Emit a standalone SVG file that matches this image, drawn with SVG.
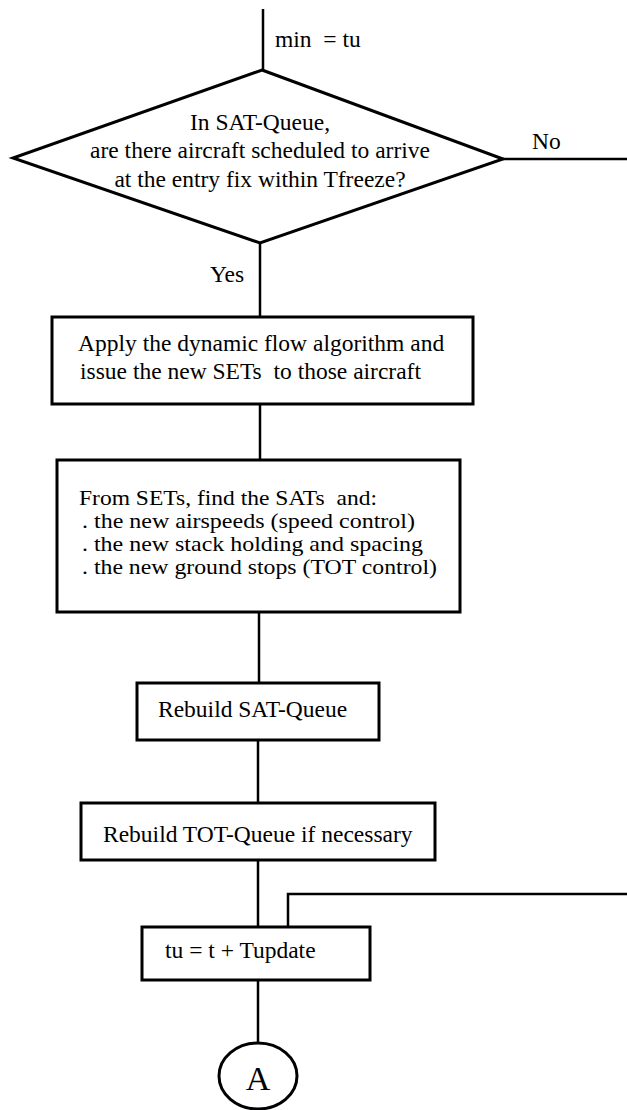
<svg xmlns="http://www.w3.org/2000/svg" width="627" height="1110" viewBox="0 0 627 1110">
  <style>
    .shape { fill: #fff; stroke: #000; stroke-width: 3; }
    .conn { fill: none; stroke: #000; stroke-width: 2.5; }
    text { font-family: "Liberation Serif", "Times New Roman", serif; font-size: 23.5px; fill: #000; }
    .c { text-anchor: middle; }
    .tight { font-size: 21px; }
  </style>
  <rect width="627" height="1110" fill="#fff"/>
  <g id="connectors">
    <path class="conn" d="M263,9 V71"/>
    <path class="conn" d="M503,159 H627"/>
    <path class="conn" d="M260,243 V317"/>
    <path class="conn" d="M260,404 V460"/>
    <path class="conn" d="M259,612 V683"/>
    <path class="conn" d="M258,740 V803"/>
    <path class="conn" d="M258,860 V927"/>
    <path class="conn" d="M288,927 V894 H627"/>
    <path class="conn" d="M258,980 V1043"/>
    <text x="275" y="47" xml:space="preserve">min  = tu</text>
    <text x="532" y="149">No</text>
    <text x="210" y="282">Yes</text>
  </g>
  <g id="decision">
    <polygon class="shape" points="262,70 503,159 260,243 13,158"/>
    <text class="c" x="260" y="130">In SAT-Queue,</text>
    <text class="c" x="260" y="158">are there aircraft scheduled to arrive</text>
    <text class="c" x="260" y="187">at the entry fix within Tfreeze?</text>
  </g>
  <g id="apply">
    <rect class="shape" x="52" y="317" width="421" height="87"/>
    <text x="78" y="351">Apply the dynamic flow algorithm and</text>
    <text x="80" y="379" xml:space="preserve">issue the new SETs  to those aircraft</text>
  </g>
  <g id="fromsets">
    <rect class="shape" x="57" y="460" width="403" height="152"/>
    <text class="tight" x="79" y="505" textLength="298" lengthAdjust="spacingAndGlyphs" xml:space="preserve">From SETs, find the SATs  and:</text>
    <text class="tight" x="82" y="528" textLength="333" lengthAdjust="spacingAndGlyphs">. the new airspeeds (speed control)</text>
    <text class="tight" x="82" y="551" textLength="341" lengthAdjust="spacingAndGlyphs">. the new stack holding and spacing</text>
    <text class="tight" x="82" y="574" textLength="355" lengthAdjust="spacingAndGlyphs">. the new ground stops (TOT control)</text>
  </g>
  <g id="rebuildsat">
    <rect class="shape" x="137" y="683" width="242" height="57"/>
    <text x="158" y="717">Rebuild SAT-Queue</text>
  </g>
  <g id="rebuildtot">
    <rect class="shape" x="81" y="803" width="354" height="57"/>
    <text x="103" y="842">Rebuild TOT-Queue if necessary</text>
  </g>
  <g id="update">
    <rect class="shape" x="142" y="927" width="228" height="53"/>
    <text x="165" y="958">tu = t + Tupdate</text>
  </g>
  <g id="connectorA">
    <ellipse class="shape" cx="258" cy="1076" rx="39" ry="33"/>
    <text class="c" x="258" y="1090" style="font-size:34px">A</text>
  </g>
</svg>
